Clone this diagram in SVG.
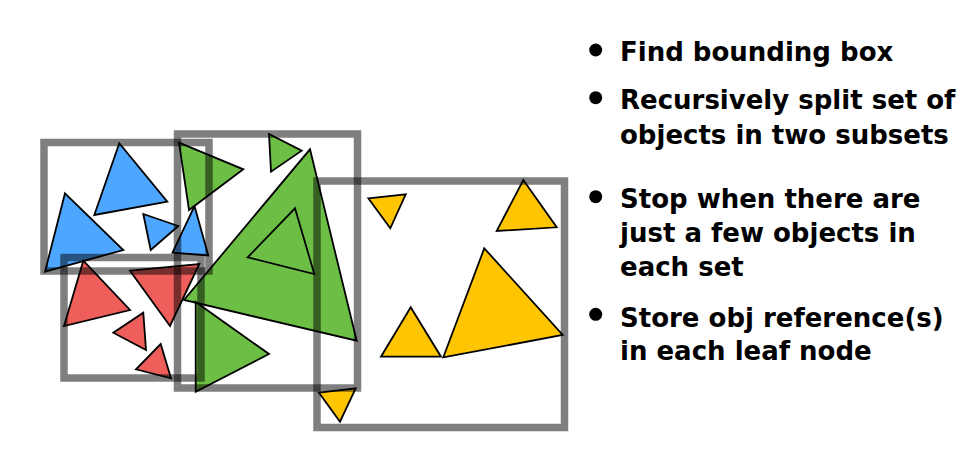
<svg xmlns="http://www.w3.org/2000/svg" width="972" height="465" viewBox="0 0 972 465">
<style>
.t{stroke:#000;stroke-width:1.8;stroke-linejoin:miter}
.b{fill:#4DA6FF}.r{fill:#EE5F5B}.g{fill:#6DBE45}.y{fill:#FFC500}
.box{fill:none;stroke:#000;stroke-opacity:0.5;stroke-width:7.5}
.txt{font-family:"DejaVu Sans",sans-serif;font-weight:700;font-size:26px;fill:#000}
</style>
<rect width="972" height="465" fill="#fff"/>
<g id="blue-objects">
<polygon class="t b" points="119.3,143.3 167.3,201.7 94.3,215"/>
<polygon class="t b" points="65,193.3 123.3,250 45,271.7"/>
<polygon class="t b" points="143.3,214 178.3,226 150.7,250"/>
<polygon class="t b" points="194.5,206 208.3,255.5 172.5,252.7"/>
</g>
<g id="red-objects">
<polygon class="t r" points="83.3,260.7 130,310 64,326"/>
<polygon class="t r" points="130,270.7 199.3,264 170,326"/>
<polygon class="t r" points="143.3,312.7 146,350 113.3,332.7"/>
<polygon class="t r" points="160.7,344 171,378.3 136,369.3"/>
</g>
<g id="green-objects">
<polygon class="t g" points="179,142.7 243.3,169.3 189,210"/>
<polygon class="t g" points="269,134 301.7,150.7 271,171.7"/>
<polygon class="t g" points="310,149.3 356.7,340.7 184,300"/>
<polygon class="t g" points="295,208.3 314.3,274 247.7,257.3"/>
<polygon class="t g" points="195.7,302 269,354 195.7,391.7"/>
</g>
<g id="yellow-objects">
<polygon class="t y" points="368.3,198.3 405.7,194.3 390.3,228.3"/>
<polygon class="t y" points="523.3,180 556.7,227.3 496.7,231"/>
<polygon class="t y" points="410.7,307.3 441,356.7 381,356.7"/>
<polygon class="t y" points="484.3,248.3 562.7,335 443.3,357.3"/>
<polygon class="t y" points="319,392.7 355.7,388.3 340,421.7"/>
</g>
<g id="bounding-boxes">
<rect id="box-blue" class="box" x="44" y="142.5" width="165" height="128.5"/>
<rect id="box-red" class="box" x="64" y="257.5" width="137" height="120.5"/>
<rect id="box-green" class="box" x="177.5" y="134" width="180" height="254"/>
<rect id="box-yellow" class="box" x="317" y="181" width="247.5" height="246.5"/>
</g>
<g id="bullets">
<circle cx="595.7" cy="50" r="6.5"/>
<circle cx="595.7" cy="97.7" r="6.5"/>
<circle cx="595.7" cy="196.7" r="6.5"/>
<circle cx="595.7" cy="314.3" r="6.5"/>
<text class="txt" x="620" y="61">Find bounding box</text>
<text class="txt" x="620" y="109">Recursively split set of</text>
<text class="txt" x="620" y="143.5">objects in two subsets</text>
<text class="txt" x="620" y="208.3">Stop when there are</text>
<text class="txt" x="620" y="242.3">just a few objects in</text>
<text class="txt" x="620" y="275.5">each set</text>
<text class="txt" x="620" y="326.7">Store obj reference(s)</text>
<text class="txt" x="620" y="360">in each leaf node</text>
</g>
</svg>
